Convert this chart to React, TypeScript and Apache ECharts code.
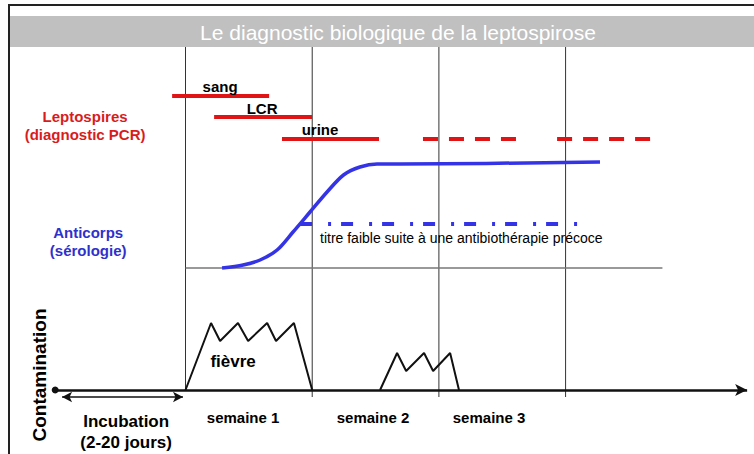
import React, { useEffect, useRef } from "react";
import * as echarts from "echarts";

// Coordinate system: x = days after fever onset, y = vertical level (arbitrary units)
const TITLE = "Le diagnostic biologique de la leptospirose";
const FONT = "'Liberation Sans', Arial, sans-serif";

const weekDays = [0, 7, 14, 21];
const weekTop = 343;
const weekLabels = ["semaine 1", "semaine 2", "semaine 3"];
const weekLabelDays = [3.18, 10.36, 16.77];

// PCR (red) windows
const bloodPCR = [[-0.74, 294], [4.62, 294]];
const csfPCR = [[1.58, 273], [6.99, 273]];
const urinePCR = [[5.33, 251], [10.69, 251]];
const urineLate1 = [[13.12, 251], [18.32, 251]];
const urineLate2 = [[20.53, 251], [25.78, 251]];

// Antibodies (blue)
const serologyBase = [[0, 122], [26.35, 122]];
const antibodyCurve = [
  [2.02, 122], [3.18, 125], [4.12, 130], [5.06, 140], [5.94, 158], [6.88, 178],
  [7.82, 198], [8.73, 215], [9.64, 223], [10.58, 226], [11.85, 226], [22.9, 228],
];
const lowTitre = [[6.33, 166], [21.8, 166]];

// Fever episodes (black)
const fever1 = [
  [0, 0], [1.41, 67], [1.91, 49], [2.9, 67], [3.46, 49], [4.51, 67], [5.0, 49], [5.99, 67], [7.0, 0],
];
const fever2 = [
  [10.75, 0], [11.69, 37], [12.19, 19], [13.18, 37], [13.68, 19], [14.62, 37], [15.11, 0],
];

// Time axis and incubation
const timeAxis = [[-7.2, 0], [31.03, 0]];
const incubation = [[-6.82, -7], [-0.14, -7]];

// Text annotations (anchor in data coordinates)
const labelTexts = [
  "sang", "LCR", "urine",
  "Leptospires\n(diagnostic PCR)",
  "Anticorps\n(sérologie)",
  "titre faible suite à une antibiothérapie précoce",
  "fièvre", "Contamination",
  "Incubation\n(2-20 jours)",
];
const labelAnchors = [
  [1.91, 304], [4.23, 282], [7.43, 261],
  [-5.55, 264.5],
  [-5.38, 149],
  [7.43, 152],
  [2.63, 29], [-8.04, 15],
  [-3.28, -42],
];

const RED = "#e01414";
const BLUE = "#3434e6";

function lineSeries(data: number[][], lineStyle: any, extra: any = {}) {
  return {
    type: "line",
    data,
    symbol: "none",
    silent: true,
    lineStyle,
    ...extra,
  };
}

export default function App() {
  const ref = useRef<HTMLDivElement>(null);
  useEffect(() => {
    if (!ref.current) return;
    const chart = echarts.init(ref.current, undefined, { renderer: "svg" });

    const labelStyles: any[] = [
      { fontSize: 15, fontWeight: "bold", color: "#000" },
      { fontSize: 15, fontWeight: "bold", color: "#000" },
      { fontSize: 15, fontWeight: "bold", color: "#000" },
      { fontSize: 15, fontWeight: "bold", color: "#d81c1c", lineHeight: 18 },
      { fontSize: 15, fontWeight: "bold", color: "#3030cc", lineHeight: 18 },
      { fontSize: 14, fontWeight: "normal", color: "#000", align: "left" },
      { fontSize: 17, fontWeight: "bold", color: "#000" },
      { fontSize: 19, fontWeight: "bold", color: "#000", rotate: 90 },
      { fontSize: 17, fontWeight: "bold", color: "#000", lineHeight: 21 },
    ];

    const labelData = labelTexts.map((t, i) => ({
      value: labelAnchors[i],
      name: t,
      label: {
        show: true,
        position: "inside",
        formatter: t,
        fontFamily: FONT,
        align: "center",
        verticalAlign: "middle",
        opacity: 1,
        textBorderWidth: 0,
        ...labelStyles[i],
      },
    }));

    const weekLabelData = weekLabels.map((t, i) => ({
      value: [weekLabelDays[i], -27],
      name: t,
      label: {
        show: true,
        position: "inside",
        formatter: t,
        fontFamily: FONT,
        fontSize: 15,
        fontWeight: "bold",
        color: "#000",
        opacity: 1,
        textBorderWidth: 0,
        align: "center",
        verticalAlign: "middle",
      },
    }));

    const series: any[] = [];
    weekDays.forEach((d, i) => {
      series.push(
        lineSeries(
          [[d, weekTop], [d, i === 0 ? 0 : -7]],
          { color: "#333", width: 1 }
        )
      );
    });
    series.push(lineSeries(serologyBase, { color: "#777", width: 1.5 }));
    series.push(lineSeries(bloodPCR, { color: RED, width: 4, cap: "butt" }));
    series.push(lineSeries(csfPCR, { color: RED, width: 4, cap: "butt" }));
    series.push(lineSeries(urinePCR, { color: RED, width: 4, cap: "butt" }));
    series.push(lineSeries(urineLate1, { color: RED, width: 4, type: [15, 11], cap: "butt" }));
    series.push(lineSeries(urineLate2, { color: RED, width: 4, type: [15, 11], cap: "butt" }));
    series.push(lineSeries(lowTitre, { color: BLUE, width: 4, type: [12, 16, 3, 10], cap: "butt" }));
    series.push(lineSeries(antibodyCurve, { color: BLUE, width: 3.5 }, { smooth: 0.3 }));
    series.push(lineSeries(fever1, { color: "#111", width: 2 }));
    series.push(lineSeries(fever2, { color: "#111", width: 2 }));
    series.push({
      type: "line",
      data: [],
      silent: true,
      markLine: {
        silent: true,
        animation: false,
        label: { show: false },
        lineStyle: { color: "#111", width: 2.5, type: "solid" },
        data: [
          [
            { coord: timeAxis[0], symbol: "circle", symbolSize: 7 },
            { coord: timeAxis[1], symbol: "arrow", symbolSize: [9, 12] },
          ],
        ],
      },
    });
    series.push({
      type: "line",
      data: [],
      silent: true,
      markLine: {
        silent: true,
        animation: false,
        label: { show: false },
        lineStyle: { color: "#111", width: 1.5, type: "solid" },
        data: [
          [
            { coord: incubation[0], symbol: "arrow", symbolSize: [8, 10] },
            { coord: incubation[1], symbol: "arrow", symbolSize: [8, 10] },
          ],
        ],
      },
    });
    series.push({
      type: "scatter",
      symbolSize: 0,
      silent: true,
      itemStyle: { color: "#fff", opacity: 1 },
      data: [...labelData, ...weekLabelData],
      z: 10,
    });

    chart.setOption({
      animation: false,
      backgroundColor: "#fff",
      grid: { left: 0, right: 0, top: 0, bottom: 0, containLabel: false },
      xAxis: { type: "value", min: -10.25, max: 31.41, show: false },
      yAxis: { type: "value", min: -64, max: 390, show: false },
      graphic: [
        { type: "rect", shape: { x: 10, y: 16, width: 744, height: 31 }, style: { fill: "#c0c0c0" }, silent: true },
        { type: "line", shape: { x1: 8, y1: 5, x2: 754, y2: 5 }, style: { stroke: "#222", lineWidth: 2 }, silent: true },
        { type: "line", shape: { x1: 9, y1: 5, x2: 9, y2: 454 }, style: { stroke: "#222", lineWidth: 2 }, silent: true },
        {
          type: "text",
          x: 398,
          y: 32,
          silent: true,
          style: {
            text: TITLE,
            fill: "#fff",
            fontSize: 21,
            fontFamily: FONT,
            align: "center",
            verticalAlign: "middle",
          },
        },
      ],
      series,
    });

    return () => chart.dispose();
  }, []);

  return (
    <div
      ref={ref}
      style={{ position: "absolute", left: 0, top: 0, width: 754, height: 454, background: "#fff" }}
    />
  );
}
